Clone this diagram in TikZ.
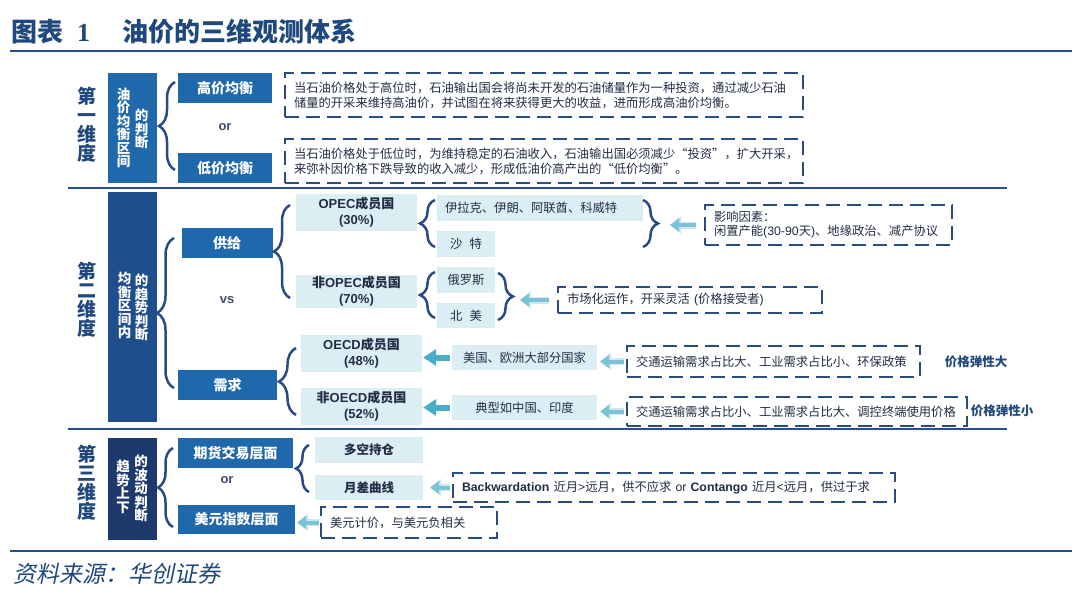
\documentclass[tikz,border=0pt]{standalone}
\usepackage{fontspec}
\setmainfont{Noto Sans CJK SC}
\newfontfamily\en{Liberation Sans}
\newfontfamily\enserif{Liberation Serif}
\newfontfamily\cjkslant{Noto Sans CJK SC}[FakeSlant=0.2]
\usetikzlibrary{decorations.pathreplacing,arrows.meta}
\definecolor{titleblue}{RGB}{31,73,125}
\definecolor{rulecol}{RGB}{40,78,140}
\definecolor{midblue}{RGB}{32,104,172}
\definecolor{darkblue}{RGB}{31,78,140}
\definecolor{navy}{RGB}{30,58,108}
\definecolor{lightbox}{RGB}{219,238,244}
\definecolor{dashcol}{RGB}{43,76,126}
\definecolor{bracecol}{RGB}{42,74,132}
\definecolor{txt}{RGB}{35,45,70}
\definecolor{orcol}{RGB}{60,75,105}
\definecolor{tealc}{RGB}{75,172,198}
\definecolor{lteal}{RGB}{125,195,215}
\definecolor{haloc}{RGB}{205,232,240}
\tikzset{
  midbox/.style={fill=midblue, text=white, font=\fontsize{14}{16}\selectfont\bfseries, inner sep=0pt},
  tallbox/.style={inner sep=0pt, minimum width=49pt},
  dimtext/.style={text=titleblue, font=\fontsize{19}{19}\selectfont\bfseries, align=center, inner sep=0pt},
  coltext/.style={text=white, font=\fontsize{13.5}{13.5}\selectfont\bfseries, align=center, inner sep=0pt},
  lbox/.style={fill=lightbox, text=txt, font=\fontsize{12.3}{14}\selectfont, inner sep=0pt},
  lboxb/.style={fill=lightbox, text=txt, font=\fontsize{13}{16}\selectfont\bfseries, align=center, inner sep=0pt},
  dbox/.style={draw=dashcol, line width=2.2pt, dash pattern=on 14pt off 7pt, text=txt, font=\fontsize{12.3}{15}\selectfont, align=left, inner xsep=9pt, inner ysep=0pt},
  sidelabel/.style={text=titleblue, font=\fontsize{12.5}{14}\selectfont\bfseries, inner sep=0pt},
  orlabel/.style={text=orcol, font=\en\fontsize{13}{15}\selectfont\bfseries, inner sep=0pt},
  brc/.style={draw=bracecol, line width=2.5pt, decorate, decoration={brace, amplitude=#1}},
  larrow/.style={draw=lteal, line width=4pt, -{Triangle[width=13pt,length=9pt]},
    preaction={draw=haloc, line width=7pt, -{Triangle[width=17pt,length=11pt]}}},
  darrow/.style={draw=tealc, line width=6pt, -{Triangle[width=16pt,length=13pt]}},
  rulestyle/.style={draw=rulecol, line width=2pt},
}
\begin{document}
\begin{tikzpicture}[x=1pt,y=-1pt]
\fill[white] (0,0) rectangle (1080,613);
\useasboundingbox (0,0) rectangle (1080,613);

% title and rules
\node[anchor=west, text=titleblue, font=\fontsize{26}{26}\selectfont\bfseries, inner sep=0pt] (title) at (11,32)
  {图表\hspace{14pt}{\enserif\bfseries 1}\hspace{32pt}油价的三维观测体系};
\draw[rulestyle, line width=2.4pt] (10,51) -- (1072,51);
\draw[rulestyle] (68,188) -- (1007,188);
\draw[rulestyle] (68,429) -- (1007,429);
\draw[rulestyle, line width=2.4pt] (10,551) -- (1072,551);
\node[anchor=west, text=titleblue, font=\cjkslant\fontsize{23}{23}\selectfont, inner sep=0pt] (source) at (13,574) {资料来源：华创证券};

% ---------------- section 1
\node[dimtext] (dim1) at (87,125) {第\\一\\维\\度};
\node[tallbox, fill=midblue, minimum height=110pt] (box1) at (132.5,128) {};
\node[coltext] (c1l) at (123.5,128) {油\\价\\均\\衡\\区\\间};
\node[coltext] (c1r) at (141.5,129) {的\\判\\断};
\draw[brc=16pt] (175,170) -- (175,82);
\node[midbox, minimum width=94pt, minimum height=30pt] (hi) at (225,88) {高价均衡};
\node[orlabel] (or1) at (225,127) {or};
\node[midbox, minimum width=94pt, minimum height=30pt] (lo) at (225,168) {低价均衡};
\node[dbox, text width=500pt, minimum height=44pt] (hitext) at (544,95)
  {当石油价格处于高位时，石油输出国会将尚未开发的石油储量作为一种投资，通过减少石油\\储量的开采来维持高油价，并试图在将来获得更大的收益，进而形成高油价均衡。};
\node[dbox, text width=500pt, minimum height=44pt] (lotext) at (544,161)
  {当石油价格处于低位时，为维持稳定的石油收入，石油输出国必须减少“投资”，扩大开采，\\来弥补因价格下跌导致的收入减少，形成低油价高产出的“低价均衡”。};

% ---------------- section 2
\node[dimtext] (dim2) at (87,300) {第\\二\\维\\度};
\node[tallbox, fill=darkblue, minimum height=230pt] (box2) at (132.5,307) {};
\node[coltext] (c2l) at (124.5,305.5) {均\\衡\\区\\间\\内};
\node[coltext] (c2r) at (141.5,307.5) {的\\趋\\势\\判\\断};
\draw[brc=17pt] (174,388) -- (174,238);
\node[midbox, minimum width=91pt, minimum height=30pt] (sup) at (227,243) {供给};
\node[orlabel] (vs) at (227,300) {vs};
\node[midbox, minimum width=99pt, minimum height=30pt] (dem) at (227.5,385) {需求};
\draw[brc=16pt] (290,298) -- (290,205);
\draw[brc=17pt] (296,415) -- (296,348);

\node[lboxb, minimum width=121pt, minimum height=37pt] (opec) at (356.5,212.5) {{\en OPEC}成员国\\{\en (30\%)}};
\node[lboxb, minimum width=121pt, minimum height=33pt] (nopec) at (356.5,291) {非{\en OPEC}成员国\\{\en (70\%)}};
\draw[brc=15pt] (435,247) -- (435,200);
\node[lbox, text width=190pt, inner xsep=8pt, align=left, minimum height=26pt] (iraq) at (540,208) {伊拉克、伊朗、阿联酋、科威特};
\node[lbox, minimum width=58pt, minimum height=26pt] (saudi) at (466,244) {沙\hspace{7pt}特};
\draw[brc=15pt] (643,200) -- (643,247);
\coordinate (opectip) at (658,223.5);
\node[dbox, text width=229pt, minimum height=40pt, font=\fontsize{12.3}{14}\selectfont] (infl) at (828.5,225)
  {影响因素：\\闲置产能{\en (30-90}天{\en )}、地缘政治、减产协议};
\draw[larrow, shorten <=8pt, shorten >=12pt] (infl.west) -- (opectip |- infl.west);

\draw[brc=15pt] (435,318) -- (435,272);
\node[lbox, minimum width=58pt, minimum height=26pt] (rus) at (466,280) {俄罗斯};
\node[lbox, minimum width=58pt, minimum height=25pt] (na) at (466,315.5) {北\hspace{7pt}美};
\draw[brc=15pt] (498,273) -- (498,320);
\coordinate (nopectip) at (513,296.5);
\node[dbox, text width=246pt, minimum height=26pt] (mkt) at (690,300) {市场化运作，开采灵活 {\en (}价格接受者{\en )}};
\draw[larrow, shorten <=8pt, shorten >=7pt] (mkt.west) -- (nopectip |- mkt.west);

\node[lboxb, minimum width=121pt, minimum height=37pt] (oecd) at (361.5,353.5) {{\en OECD}成员国\\{\en (48\%)}};
\node[lboxb, minimum width=121pt, minimum height=37pt] (noecd) at (361.5,406.5) {非{\en OECD}成员国\\{\en (52\%)}};
\node[lbox, minimum width=145pt, minimum height=25pt] (us) at (524.5,357.5) {美国、欧洲大部分国家};
\node[lbox, minimum width=145pt, minimum height=25pt] (cn) at (524.5,407.5) {典型如中国、印度};
\draw[darrow, shorten <=2pt, shorten >=1pt] (us.west) -- (us.west -| oecd.east);
\draw[darrow, shorten <=2pt, shorten >=1pt] (cn.west) -- (cn.west -| noecd.east);
\node[dbox, text width=275pt, minimum height=31pt] (e1) at (773.5,361.5) {交通运输需求占比大、工业需求占比小、环保政策};
\node[dbox, text width=322pt, minimum height=29pt] (e2) at (797,411.5) {交通运输需求占比小、工业需求占比大、调控终端使用价格};
\draw[larrow, shorten <=2pt, shorten >=3pt] (e1.west) -- (e1.west -| us.east);
\draw[larrow, shorten <=2pt, shorten >=3pt] (e2.west) -- (e2.west -| cn.east);
\node[sidelabel] (el1) at (976,362) {价格弹性大};
\node[sidelabel] (el2) at (1002,411) {价格弹性小};

% ---------------- section 3
\node[dimtext] (dim3) at (87,483) {第\\三\\维\\度};
\node[tallbox, fill=navy, minimum height=102pt] (box3) at (132.5,489) {};
\node[coltext] (c3l) at (123,487) {趋\\势\\上\\下};
\node[coltext] (c3r) at (141,488.5) {的\\波\\动\\判\\断};
\draw[brc=15pt] (173,527) -- (173,448);
\node[midbox, minimum width=115pt, minimum height=30pt] (fut) at (235.5,453) {期货交易层面};
\node[orlabel] (or2) at (227,480) {or};
\node[midbox, minimum width=117pt, minimum height=29pt] (usd) at (236.5,519.5) {美元指数层面};
\draw[brc=13pt] (309,492) -- (309,445);
\node[lboxb, font=\fontsize{12.5}{14}\selectfont\bfseries, minimum width=108pt, minimum height=26pt] (pos) at (369,450) {多空持仓};
\node[lboxb, font=\fontsize{12.5}{14}\selectfont\bfseries, minimum width=108pt, minimum height=25pt] (curve) at (369,487.5) {月差曲线};
\node[dbox, text width=424pt, minimum height=29pt] (bw) at (674,487.5)
  {{\en\bfseries Backwardation} 近月{\en >}远月，供不应求 {\en or} {\en\bfseries Contango} 近月{\en <}远月，供过于求};
\draw[larrow, shorten <=2pt, shorten >=7pt] (bw.west) -- (bw.west -| curve.east);
\node[dbox, text width=158pt, minimum height=31pt] (usdt) at (409,522.5) {美元计价，与美元负相关};
\draw[larrow, shorten <=1pt, shorten >=2pt] (usdt.west) -- (usdt.west -| usd.east);
\end{tikzpicture}
\end{document}
